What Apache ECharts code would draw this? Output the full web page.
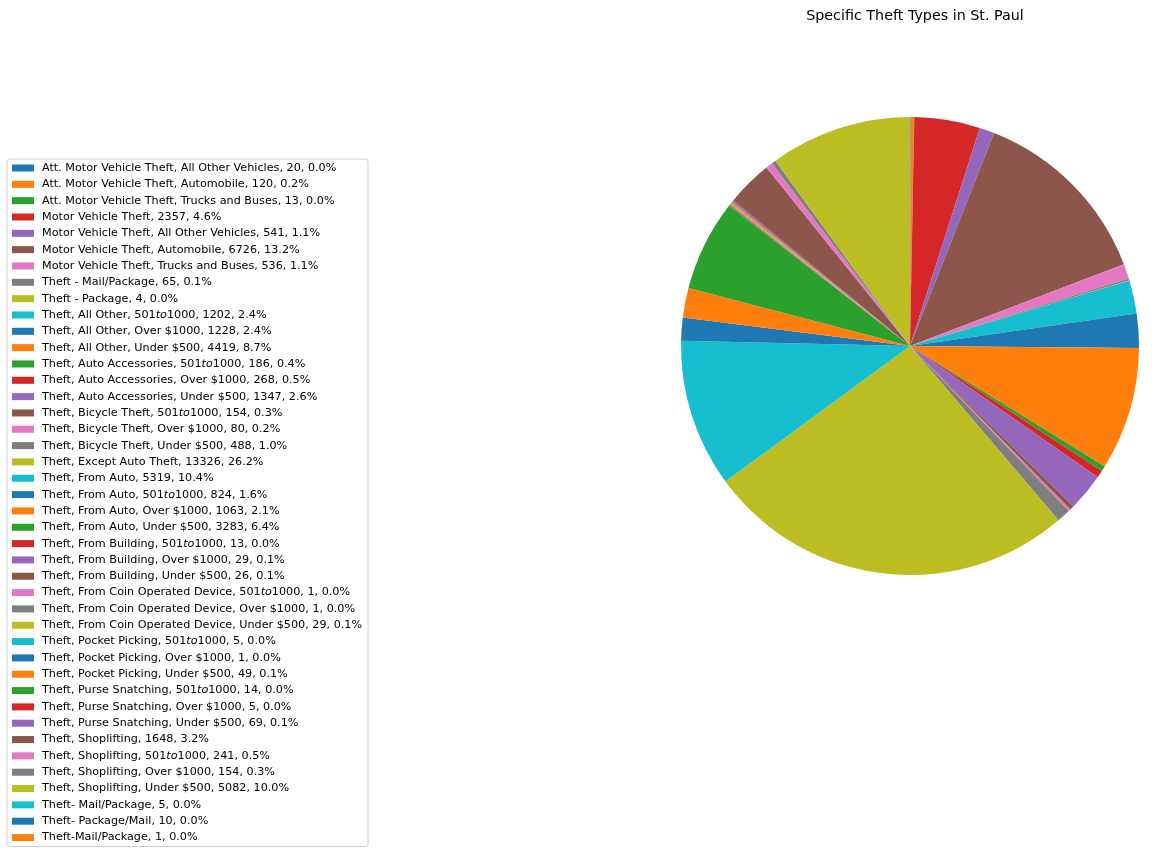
<!DOCTYPE html>
<html>
<head>
<meta charset="utf-8">
<script src="https://cdn.jsdelivr.net/npm/echarts@6/dist/echarts.min.js"></script>
<style>
  html, body { margin: 0; padding: 0; background: #fff; }
  #chart { width: 1172px; height: 853px; }
</style>
</head>
<body>
<div id="chart"></div>
<script>
// theft types and counts, legend order
const theftTypes = [
  'Att. Motor Vehicle Theft, All Other Vehicles',
  'Att. Motor Vehicle Theft, Automobile',
  'Att. Motor Vehicle Theft, Trucks and Buses',
  'Motor Vehicle Theft',
  'Motor Vehicle Theft, All Other Vehicles',
  'Motor Vehicle Theft, Automobile',
  'Motor Vehicle Theft, Trucks and Buses',
  'Theft - Mail/Package',
  'Theft - Package',
  'Theft, All Other, $501 to $1000',
  'Theft, All Other, Over $1000',
  'Theft, All Other, Under $500',
  'Theft, Auto Accessories, $501 to $1000',
  'Theft, Auto Accessories, Over $1000',
  'Theft, Auto Accessories, Under $500',
  'Theft, Bicycle Theft, $501 to $1000',
  'Theft, Bicycle Theft, Over $1000',
  'Theft, Bicycle Theft, Under $500',
  'Theft, Except Auto Theft',
  'Theft, From Auto',
  'Theft, From Auto, $501 to $1000',
  'Theft, From Auto, Over $1000',
  'Theft, From Auto, Under $500',
  'Theft, From Building, $501 to $1000',
  'Theft, From Building, Over $1000',
  'Theft, From Building, Under $500',
  'Theft, From Coin Operated Device, $501 to $1000',
  'Theft, From Coin Operated Device, Over $1000',
  'Theft, From Coin Operated Device, Under $500',
  'Theft, Pocket Picking, $501 to $1000',
  'Theft, Pocket Picking, Over $1000',
  'Theft, Pocket Picking, Under $500',
  'Theft, Purse Snatching, $501 to $1000',
  'Theft, Purse Snatching, Over $1000',
  'Theft, Purse Snatching, Under $500',
  'Theft, Shoplifting',
  'Theft, Shoplifting, $501 to $1000',
  'Theft, Shoplifting, Over $1000',
  'Theft, Shoplifting, Under $500',
  'Theft- Mail/Package',
  'Theft- Package/Mail',
  'Theft-Mail/Package'
];
const theftCounts = [
  20, 120, 13, 2357, 541, 6726, 536, 65, 4, 1202,
  1228, 4419, 186, 268, 1347, 154, 80, 488, 13326, 5319,
  824, 1063, 3283, 13, 29, 26, 1, 1, 29, 5,
  1, 49, 14, 5, 69, 1648, 241, 154, 5082, 5,
  10, 1
];
const palette = ['#1f77b4', '#ff7f0e', '#2ca02c', '#d62728', '#9467bd',
                 '#8c564b', '#e377c2', '#7f7f7f', '#bcbd22', '#17becf'];

const total = theftCounts.reduce((a, b) => a + b, 0);
const countByName = {};
theftTypes.forEach((n, i) => { countByName[n] = theftCounts[i]; });

const chart = echarts.init(document.getElementById('chart'));
chart.setOption({
  animation: false,
  color: palette,
  title: {
    text: 'Specific Theft Types in St. Paul',
    left: 910,
    top: 4,
    textAlign: 'center',
    textStyle: { fontFamily: 'DejaVu Sans', fontSize: 14.3, fontWeight: 'normal', color: '#000' }
  },
  legend: {
    orient: 'vertical',
    left: 7,
    top: 159,
    height: 690,
    padding: [2, 6, 2, 5],
    itemWidth: 22,
    itemHeight: 7,
    itemGap: 2.33,
    icon: 'rect',
    borderColor: '#d0d0d0',
    borderWidth: 1,
    borderRadius: 3,
    backgroundColor: '#fff',
    selectedMode: false,
    data: theftTypes,
    formatter: function (name) {
      const v = countByName[name];
      const pct = (v / total * 100).toFixed(1);
      const label = name.replace('$501 to $1000', '501{it|to}1000');
      return label + ', ' + v + ', ' + pct + '%';
    },
    textStyle: {
      fontFamily: 'DejaVu Sans',
      fontSize: 11.2,
      lineHeight: 14,
      color: '#000',
      padding: [0, 0, 0, 3],
      rich: {
        it: { fontFamily: 'DejaVu Sans', fontSize: 11.2, fontStyle: 'italic', color: '#000' }
      }
    }
  },
  series: [{
    type: 'pie',
    center: [910, 346],
    radius: [0, 229],
    startAngle: 90,
    clockwise: true,
    avoidLabelOverlap: false,
    label: { show: false },
    labelLine: { show: false },
    itemStyle: { borderWidth: 0 },
    emphasis: { disabled: true },
    data: theftTypes.map((n, i) => ({ name: n, value: theftCounts[i] }))
  }]
});
</script>
</body>
</html>
